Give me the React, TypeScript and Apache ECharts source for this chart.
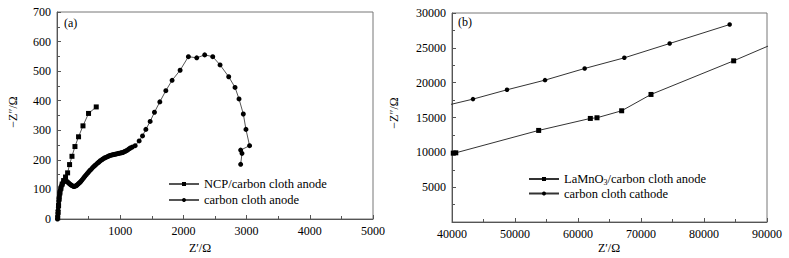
import React, { useEffect, useRef } from "react";
import * as echarts from "echarts";

// (a) NCP/carbon cloth anode: [Z', -Z'']
const ncpAnode: [number, number][] = [
  [12, 4], [18, 22], [25, 45], [34, 68], [46, 88], [62, 104], [82, 118], [105, 130],
  [135, 142], [168, 156], [199, 184], [237, 212], [284, 245], [341, 278], [411, 315],
  [499, 357], [621, 379],
];
// (a) carbon cloth anode
const clothAnode: [number, number][] = [
  [8, 0], [11, 10], [14, 20], [17, 30], [21, 40], [25, 50], [29, 60], [34, 70], [39, 79],
  [45, 88], [52, 96], [60, 104], [69, 111], [79, 117], [91, 122], [104, 126], [118, 128],
  [133, 129], [148, 128], [163, 126], [178, 123], [193, 120], [208, 117], [223, 115],
  [238, 113], [253, 111], [268, 110], [283, 111], [298, 112], [313, 114], [328, 117],
  [343, 120], [358, 123], [373, 126], [388, 130], [404, 134], [422, 139], [440, 144],
  [460, 149], [480, 154], [500, 159], [520, 164], [540, 168], [560, 173], [580, 177],
  [600, 181], [620, 185], [640, 189], [660, 192], [680, 196], [700, 199], [720, 202],
  [740, 205], [760, 207], [780, 209], [800, 211], [820, 213], [840, 215], [860, 216],
  [880, 217], [900, 218], [920, 219], [940, 220], [960, 221], [980, 222], [1000, 223],
  [1020, 224], [1040, 225], [1060, 227], [1080, 229], [1100, 231], [1120, 234],
  [1140, 237], [1160, 240], [1190, 243], [1237, 248], [1300, 264], [1353, 281],
  [1406, 303], [1474, 330], [1542, 361], [1627, 396], [1722, 434], [1821, 469],
  [1948, 503], [2079, 549], [2211, 545], [2337, 555], [2464, 549], [2580, 521],
  [2717, 481], [2817, 445], [2880, 406], [2948, 355], [2990, 303], [3047, 248],
  [2906, 233], [2927, 222], [2906, 185],
];
// (b) LaMnO3/carbon cloth anode
const lamnoAnode: [number, number][] = [
  [40200, 9880], [40600, 9930], [53757, 13145], [61958, 14866], [63016, 14962],
  [66931, 15966], [71587, 18308], [84709, 23136], [93000, 26350],
];
// (b) carbon cloth cathode
const clothCathode: [number, number][] = [
  [37500, 16380], [43333, 17639], [48730, 18977], [54762, 20363], [61058, 22036],
  [67354, 23566], [74550, 25621], [84074, 28346],
];

const xTicksA = { min: 0, max: 5000, interval: 1000 };
const yTicksA = { min: 0, max: 700, interval: 100 };
const xTicksB = { min: 40000, max: 90000, interval: 10000 };
const yTicksB = { min: 0, max: 30000, interval: 5000 };

const legendA = ["NCP/carbon cloth anode", "carbon cloth anode"];
const legendB = ["LaMnO3/carbon cloth anode", "carbon cloth cathode"];

const FONT = "Times New Roman, Liberation Serif, serif";

export default function App() {
  const ref = useRef<HTMLDivElement>(null);
  useEffect(() => {
    if (!ref.current) return;
    const chart = echarts.init(ref.current, undefined, { renderer: "svg" });
    const plain = (v: number) => (v === 0 ? "" : String(v));
    const axisCommon = {
      axisLine: { show: true, lineStyle: { color: "#555", width: 1 } },
      axisTick: { show: true, inside: true, length: 4, lineStyle: { color: "#555" } },
      minorTick: { show: true, splitNumber: 2, length: 3, lineStyle: { color: "#555" } },
      splitLine: { show: false },
      axisLabel: { color: "#000", fontFamily: FONT, fontSize: 12, margin: 6, formatter: (v: number) => String(v) },
    };
    const lineStyle = { color: "#555", width: 1 };
    const textCommon = { fill: "#000", fontFamily: FONT, fontSize: 12 };
    chart.setOption({
      animation: false,
      textStyle: { fontFamily: FONT },
      grid: [
        { left: 57, top: 12, width: 316, height: 207, show: true, borderColor: "#777", borderWidth: 1 },
        { left: 452, top: 13, width: 315, height: 209, show: true, borderColor: "#777", borderWidth: 1 },
      ],
      xAxis: [
        {
          type: "value", gridIndex: 0, ...xTicksA, ...axisCommon,
          axisLabel: { ...axisCommon.axisLabel, formatter: plain },
        },
        { type: "value", gridIndex: 1, ...xTicksB, ...axisCommon },
      ],
      yAxis: [
        { type: "value", gridIndex: 0, ...yTicksA, ...axisCommon },
        {
          type: "value", gridIndex: 1, ...yTicksB, ...axisCommon,
          axisLabel: { ...axisCommon.axisLabel, formatter: plain },
        },
      ],
      legend: [
        {
          data: legendA, orient: "vertical", left: 168, top: 177, padding: 0, itemWidth: 30, itemHeight: 5,
          itemGap: 2, textStyle: { fontFamily: FONT, fontSize: 12.5, color: "#000", lineHeight: 14 },
        },
        {
          data: legendB, orient: "vertical", left: 528, top: 172, padding: 0, itemWidth: 30, itemHeight: 5,
          itemGap: 0.5,
          formatter: (name: string) =>
            name.startsWith("LaMnO3") ? "{a|LaMnO}{s|3}{a|/carbon cloth anode}" : "{a|" + name + "}",
          textStyle: {
            fontFamily: FONT, fontSize: 12.5, color: "#000", lineHeight: 14,
            rich: {
              a: { fontFamily: FONT, fontSize: 12.5, color: "#000", lineHeight: 14 },
              s: { fontFamily: FONT, fontSize: 8, color: "#000", lineHeight: 8, verticalAlign: "bottom" },
            },
          },
        },
      ],
      series: [
        {
          name: legendA[0], type: "line", xAxisIndex: 0, yAxisIndex: 0, data: ncpAnode,
          symbol: "rect", symbolSize: 5, itemStyle: { color: "#000" }, lineStyle, clip: true,
        },
        {
          name: legendA[1], type: "line", xAxisIndex: 0, yAxisIndex: 0, data: clothAnode,
          symbol: "circle", symbolSize: 5, itemStyle: { color: "#000" }, lineStyle, clip: true,
        },
        {
          name: legendB[0], type: "line", xAxisIndex: 1, yAxisIndex: 1, data: lamnoAnode,
          symbol: "rect", symbolSize: 5, itemStyle: { color: "#000" }, lineStyle: { color: "#333", width: 1 }, clip: true,
        },
        {
          name: legendB[1], type: "line", xAxisIndex: 1, yAxisIndex: 1, data: clothCathode,
          symbol: "circle", symbolSize: 4.5, itemStyle: { color: "#000" }, lineStyle: { color: "#333", width: 1 }, clip: true,
        },
      ],
      graphic: [
        { type: "text", left: 64, top: 17, style: { ...textCommon, text: "(a)" } },
        { type: "text", left: 458, top: 16, style: { ...textCommon, text: "(b)" } },
        { type: "text", x: 200, y: 248, style: { ...textCommon, text: "Z′/Ω", align: "center", verticalAlign: "middle" } },
        { type: "text", x: 609, y: 248, style: { ...textCommon, text: "Z′/Ω", align: "center", verticalAlign: "middle" } },
        { type: "text", x: 13, y: 112, rotation: Math.PI / 2, style: { ...textCommon, text: "−Z″/Ω", align: "center", verticalAlign: "middle" } },
        { type: "text", x: 394, y: 113, rotation: Math.PI / 2, style: { ...textCommon, text: "−Z″/Ω", align: "center", verticalAlign: "middle" } },
      ],
    });
    return () => chart.dispose();
  }, []);
  return (
    <div
      ref={ref}
      style={{ position: "fixed", left: 0, top: 0, width: 789, height: 258, background: "#fff" }}
    />
  );
}
